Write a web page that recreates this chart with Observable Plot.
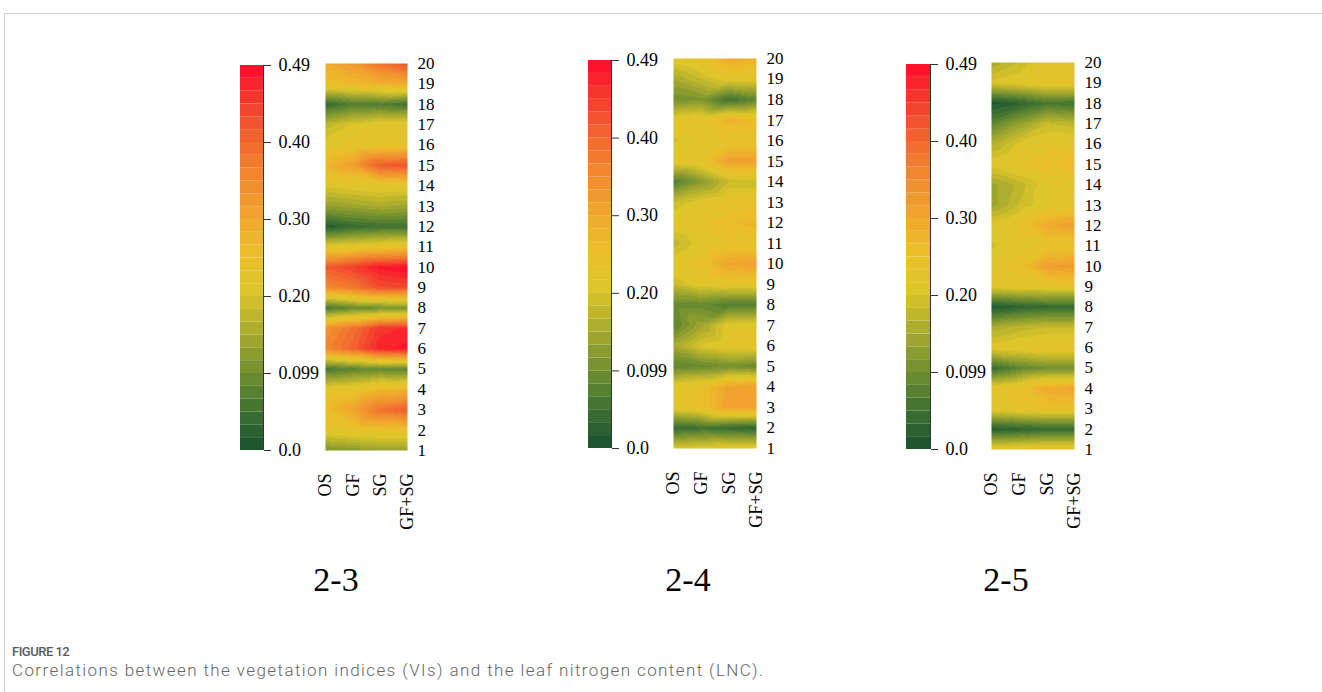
<!DOCTYPE html>
<html>
<head>
<meta charset="utf-8">
<script src="https://cdn.jsdelivr.net/npm/d3@7"></script>
<script src="https://cdn.jsdelivr.net/npm/@observablehq/plot@0.6"></script>
<style>
  html, body { margin: 0; padding: 0; background: #fff; }
  #root { position: relative; width: 1322px; height: 692px; overflow: hidden; background: #fff; }
  .frame { position: absolute; left: 4px; top: 13px; width: 1400px; height: 800px;
           border-top: 1px solid #cfcfcf; border-left: 1px solid #cfcfcf; }
  .abs { position: absolute; }
  .ptitle { position: absolute; font-family: "Liberation Serif", serif; font-size: 34px; color: #000;
            transform: translateX(-50%); line-height: 1; white-space: nowrap; }
  .fig { position: absolute; left: 12px; top: 644px; font-family: Roboto, sans-serif; font-size: 13px;
         font-weight: 500; color: #5a5a5a; letter-spacing: -0.5px; white-space: nowrap; }
  .cap { position: absolute; left: 12px; top: 659.5px; font-family: Roboto, sans-serif; font-size: 17px;
         font-weight: 300; color: #666; letter-spacing: 1.4px; white-space: nowrap; }
</style>
</head>
<body>
<div id="root"><div class="frame"></div></div>
<script>
// ---- categories / tick labels ----
const colLabels = ["OS", "GF", "SG", "GF+SG"];
const rowLabels = [1, 2, 3, 4, 5, 6, 7, 8, 9, 10, 11, 12, 13, 14, 15, 16, 17, 18, 19, 20];
const legendTickLabels = ["0.0", "0.099", "0.20", "0.30", "0.40", "0.49"];
const legendMax = 0.49;
const panelNames = ["2-3", "2-4", "2-5"];

// ---- correlation values, rows 1 -> 20 ----
const os23   = [0.11,0.22,0.25,0.22,0.06,0.35,0.33,0.06,0.34,0.41,0.21,0.02,0.13,0.20,0.27,0.21,0.17,0.04,0.25,0.29];
const gf23   = [0.12,0.23,0.30,0.23,0.08,0.40,0.38,0.09,0.37,0.44,0.22,0.04,0.14,0.21,0.31,0.22,0.20,0.07,0.26,0.32];
const sg23   = [0.13,0.24,0.38,0.26,0.09,0.47,0.45,0.10,0.42,0.48,0.23,0.05,0.15,0.22,0.41,0.23,0.22,0.07,0.28,0.38];
const gfsg23 = [0.13,0.24,0.41,0.27,0.08,0.48,0.46,0.10,0.43,0.49,0.24,0.05,0.14,0.22,0.42,0.23,0.22,0.05,0.29,0.42];

const os24   = [0.20,0.04,0.22,0.22,0.08,0.15,0.08,0.09,0.18,0.22,0.17,0.22,0.18,0.07,0.22,0.19,0.22,0.10,0.15,0.21];
const gf24   = [0.21,0.05,0.24,0.24,0.09,0.20,0.14,0.09,0.21,0.24,0.21,0.23,0.21,0.12,0.23,0.22,0.23,0.11,0.18,0.23];
const sg24   = [0.22,0.04,0.31,0.30,0.10,0.22,0.21,0.07,0.22,0.30,0.23,0.26,0.23,0.18,0.31,0.23,0.27,0.05,0.21,0.29];
const gfsg24 = [0.22,0.03,0.31,0.31,0.09,0.22,0.21,0.07,0.22,0.31,0.23,0.27,0.23,0.18,0.31,0.23,0.26,0.08,0.21,0.28];

const os25   = [0.23,0.02,0.22,0.22,0.04,0.21,0.15,0.01,0.21,0.22,0.19,0.21,0.14,0.14,0.21,0.16,0.08,0.01,0.20,0.15];
const gf25   = [0.23,0.03,0.23,0.24,0.08,0.22,0.17,0.03,0.22,0.24,0.22,0.23,0.18,0.17,0.23,0.20,0.13,0.03,0.21,0.18];
const sg25   = [0.24,0.04,0.24,0.29,0.10,0.23,0.18,0.04,0.22,0.31,0.23,0.29,0.21,0.21,0.25,0.22,0.18,0.06,0.23,0.22];
const gfsg25 = [0.24,0.04,0.24,0.30,0.10,0.23,0.18,0.04,0.22,0.32,0.23,0.31,0.22,0.22,0.26,0.22,0.17,0.05,0.23,0.22];

// ---- colour ramp (style) ----
const rampStops  = [0, 0.05, 0.10, 0.15, 0.20, 0.25, 0.30, 0.35, 0.40, 0.45, 0.49];
const rampColors = ["#18512f","#3f7132","#72902f","#a9ab2e","#dcc52a","#ebbf2a","#f0a52e","#f1872e","#f2622e","#f5352d","#ff0a2a"];
const nBands = 30;

const rampScale = d3.scaleLinear().domain(rampStops).range(rampColors).interpolate(d3.interpolateRgb).clamp(true);
const bandStep = legendMax / nBands;
const thresholds = d3.range(1, nBands).map(i => i * bandStep);
const bandColors = d3.range(nBands).map(i => d3.color(rampScale((i + 0.5) * bandStep)).formatHex());
const colorOpt = { type: "threshold", domain: thresholds, range: bandColors };
const serif = '"Liberation Serif", "Times New Roman", serif';

const panels = [
  { cols: [os23, gf23, sg23, gfsg23], bar: {l: 240, t: 65, w: 23, h: 385}, heat: {l: 325, t: 63, w: 82, h: 387}, title: {x: 336, y: 563} },
  { cols: [os24, gf24, sg24, gfsg24], bar: {l: 588, t: 60, w: 23, h: 388}, heat: {l: 673, t: 58, w: 83, h: 390}, title: {x: 688, y: 563} },
  { cols: [os25, gf25, sg25, gfsg25], bar: {l: 906, t: 64, w: 24, h: 385}, heat: {l: 991, t: 62, w: 83, h: 387}, title: {x: 1006, y: 563} }
];

const root = document.getElementById("root");

function place(node, left, top) {
  const div = document.createElement("div");
  div.className = "abs";
  div.style.left = left + "px";
  div.style.top = top + "px";
  div.appendChild(node);
  root.appendChild(div);
}

function colorbar(box) {
  const mL = 2, mR = 70, mT = 12, mB = 12;
  const bands = d3.range(nBands).map(i => ({ y1: i * bandStep, y2: (i + 1) * bandStep, v: (i + 0.5) * bandStep }));
  const tickVals = legendTickLabels.map((_, i) => legendMax * i / (legendTickLabels.length - 1));
  const svg = Plot.plot({
    width: box.w + mL + mR, height: box.h + mT + mB,
    marginLeft: mL, marginRight: mR, marginTop: mT, marginBottom: mB,
    x: { domain: [0, 1], axis: null },
    y: { domain: [0, legendMax], axis: null },
    color: colorOpt,
    style: { fontFamily: serif, color: "#000", background: "transparent", overflow: "visible" },
    marks: [
      Plot.rect(bands, { x1: 0, x2: 1, y1: "y1", y2: "y2", fill: "v" }),
      Plot.ruleX([1], { stroke: "#333", strokeWidth: 1 }),
      Plot.axisY(tickVals, { anchor: "right", label: null, tickFormat: (d, i) => legendTickLabels[i], tickSize: 7,
                             tickPadding: 8, fontSize: 18, stroke: "#333" })
    ]
  });
  place(svg, box.l - mL, box.t - mT);
}

function heatmap(cols, box) {
  const mL = 12, mR = 45, mT = 12, mB = 100;
  const pts = [];
  rowLabels.forEach((r, j) => cols.forEach((arr, i) => pts.push({ x: i + 1, y: r, v: arr[j] })));
  const svg = Plot.plot({
    width: box.w + mL + mR, height: box.h + mT + mB,
    marginLeft: mL, marginRight: mR, marginTop: mT, marginBottom: mB,
    x: { domain: [1, colLabels.length], axis: null },
    y: { domain: [1, rowLabels.length], axis: null },
    color: colorOpt,
    style: { fontFamily: serif, color: "#000", background: "transparent", overflow: "visible" },
    marks: [
      Plot.raster(pts, { x: "x", y: "y", fill: "v", interpolate: "barycentric", pixelSize: 1 }),
      Plot.axisX(colLabels.map((_, i) => i + 1), { anchor: "bottom", label: null, tickFormat: d => colLabels[d - 1],
                 tickRotate: -90, tickSize: 0, tickPadding: 23, fontSize: 18 }),
      Plot.axisY(rowLabels, { anchor: "right", label: null, tickFormat: d => String(d), tickSize: 0, tickPadding: 10, fontSize: 17 })
    ]
  });
  place(svg, box.l - mL, box.t - mT);
}

panels.forEach((p, k) => {
  colorbar(p.bar);
  heatmap(p.cols, p.heat);
  const t = document.createElement("div");
  t.className = "ptitle";
  t.style.left = p.title.x + "px";
  t.style.top = p.title.y + "px";
  t.textContent = panelNames[k];
  root.appendChild(t);
});

const fig = document.createElement("div");
fig.className = "fig";
fig.textContent = "FIGURE 12";
root.appendChild(fig);
const cap = document.createElement("div");
cap.className = "cap";
cap.textContent = "Correlations between the vegetation indices (VIs) and the leaf nitrogen content (LNC).";
root.appendChild(cap);
</script>
</body>
</html>
